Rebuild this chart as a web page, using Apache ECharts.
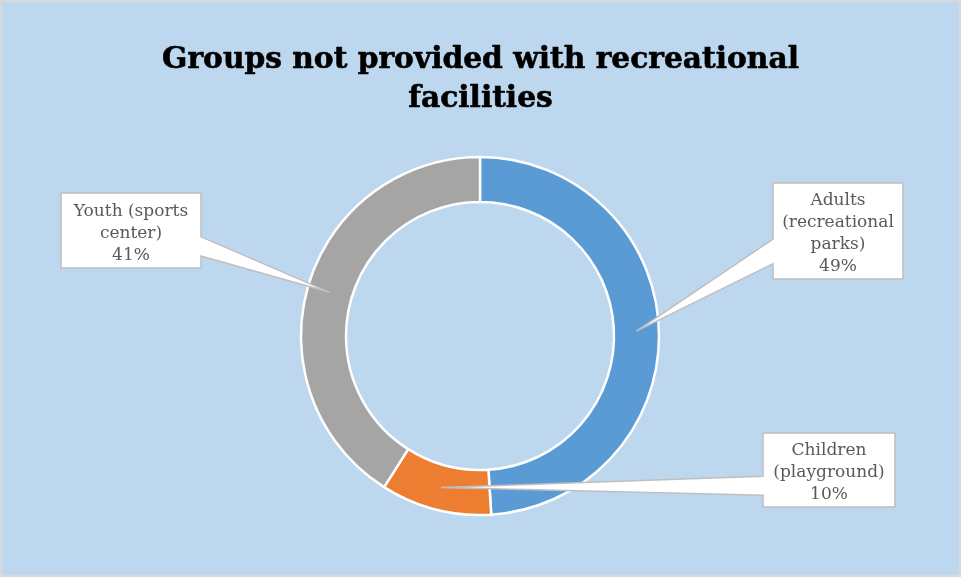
<!DOCTYPE html>
<html>
<head>
<meta charset="utf-8">
<script src="https://cdn.jsdelivr.net/npm/echarts@6/dist/echarts.min.js"></script>
<style>
  html, body { margin: 0; padding: 0; background: #BDD7EE; }
  #chart { width: 961px; height: 577px; }
</style>
</head>
<body>
<div id="chart"></div>
<script>
// Chart data
const titleText = 'Groups not provided with recreational\nfacilities';
const categories = ['Adults\n(recreational\nparks)', 'Children\n(playground)', 'Youth (sports\ncenter)'];
const values = [49, 10, 41];
const colors = ['#5B9BD5', '#ED7D31', '#A5A5A5'];

// Callout boxes: left, top, width, height, edge the pointer leaves from
const boxes = [
  [773, 183, 130, 96, 'left'],
  [763, 433, 132, 74, 'left'],
  [61, 193, 140, 75, 'right']
];

const center = [480, 336];
const radius = [134, 179];
const labelFont = 'DejaVu Serif';

const chart = echarts.init(document.getElementById('chart'), null, { renderer: 'canvas' });
const pieData = categories.map((name, i) => ({ name: name, value: values[i] }));

chart.setOption({
  animation: false,
  backgroundColor: '#BDD7EE',
  color: colors,
  title: {
    text: titleText,
    left: 'center',
    top: 36,
    textStyle: {
      fontFamily: labelFont,
      fontWeight: 'bold',
      fontSize: 29.7,
      lineHeight: 39,
      color: '#000000',
      textBorderColor: '#000000',
      textBorderWidth: 0.6
    }
  },
  series: [
    {
      // ring segments
      type: 'pie',
      z: 1,
      silent: true,
      center: center,
      radius: radius,
      startAngle: 90,
      clockwise: true,
      data: pieData,
      itemStyle: { borderColor: '#FFFFFF', borderWidth: 2.5 },
      label: { show: false },
      labelLine: { show: false }
    },
    {
      // same ring, invisible, carrying the callout texts above the boxes
      type: 'pie',
      z: 3,
      silent: true,
      center: center,
      radius: radius,
      startAngle: 90,
      clockwise: true,
      avoidLabelOverlap: false,
      data: pieData,
      itemStyle: { color: 'rgba(0,0,0,0)', borderWidth: 0 },
      label: {
        show: true,
        position: 'outside',
        formatter: p => p.name + '\n' + Math.round(p.percent) + '%',
        color: '#595959',
        fontFamily: labelFont,
        fontSize: 17,
        lineHeight: 22,
        align: 'center'
      },
      labelLine: { show: false },
      labelLayout: p => {
        const b = boxes[p.dataIndex];
        return { x: b[0] + b[2] / 2, y: b[1] + b[3] / 2 + 3, align: 'center', verticalAlign: 'middle' };
      }
    }
  ]
});

// Callout shapes: each box with a wedge pointing to the middle of its segment
const ringData = chart.getModel().getSeriesByIndex(0).getData();
const elements = [{
  type: 'rect',
  silent: true,
  z: 5,
  shape: { x: 1, y: 1, width: 959, height: 575 },
  style: { fill: 'none', stroke: '#D9D9D9', lineWidth: 2 }
}];
boxes.forEach((b, i) => {
  const L = ringData.getItemLayout(i);
  const mid = (L.startAngle + L.endAngle) / 2;
  const rm = (L.r + L.r0) / 2;
  const tip = [L.cx + rm * Math.cos(mid), L.cy + rm * Math.sin(mid)];
  const x = b[0], y = b[1], w = b[2], h = b[3];
  const y1 = y + 0.585 * h, y2 = y + 0.84 * h;
  const pts = b[4] === 'left'
    ? [[x, y], [x + w, y], [x + w, y + h], [x, y + h], [x, y2], tip, [x, y1]]
    : [[x, y], [x + w, y], [x + w, y1], tip, [x + w, y2], [x + w, y + h], [x, y + h]];
  elements.push({
    type: 'polygon',
    silent: true,
    z: 2,
    shape: { points: pts },
    style: { fill: '#FFFFFF', stroke: '#BFBFBF', lineWidth: 1.5, lineJoin: 'miter' }
  });
});
chart.setOption({ graphic: { elements: elements } });
</script>
</body>
</html>
